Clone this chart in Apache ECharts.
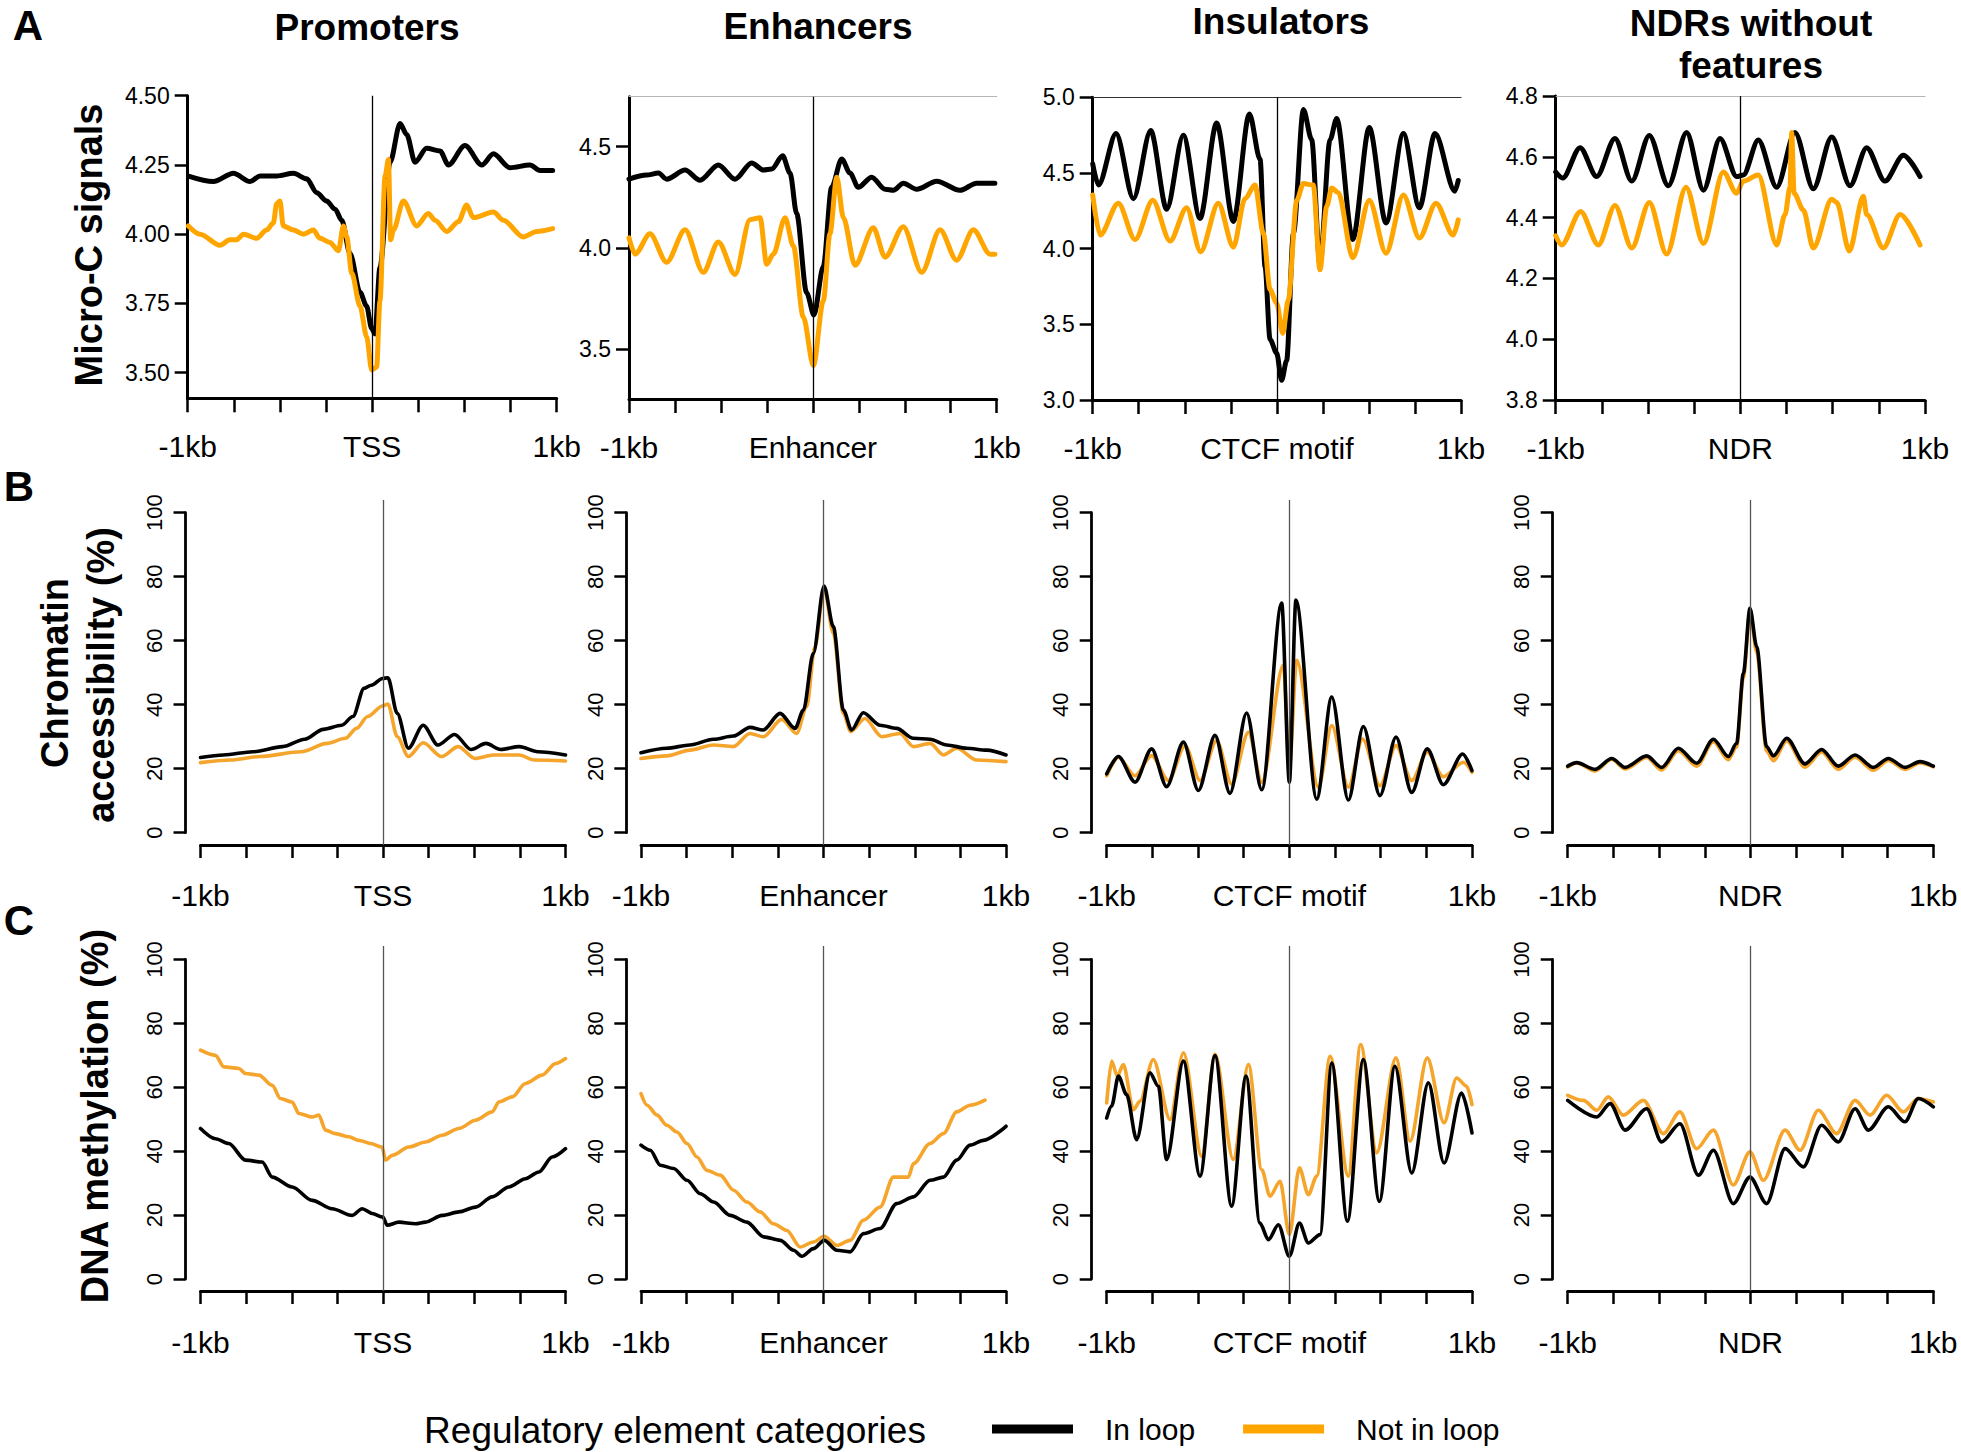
<!DOCTYPE html>
<html><head><meta charset="utf-8">
<script src="https://cdn.jsdelivr.net/npm/echarts@6/dist/echarts.min.js"></script>
<style>html,body{margin:0;padding:0;background:#fff}#c{width:1961px;height:1452px}</style>
</head><body><div id="c"></div>
<script>
const FONT = '"Liberation Sans", Arial, Helvetica, sans-serif';

// ---------- text / categories ----------
const columnTitles = ['Promoters', 'Enhancers', 'Insulators', 'NDRs without', 'features'];
const centerLabels = ['TSS', 'Enhancer', 'CTCF motif', 'NDR'];
const rowTitles = ['Micro-C signals', 'Chromatin', 'accessibility (%)', 'DNA methylation (%)'];
const panelLetters = ['A', 'B', 'C'];
const seriesNames = ['In loop', 'Not in loop'];
const legendTitle = 'Regulatory element categories';
const edgeLabels = ['-1kb', '1kb'];

// ---------- tick values ----------
const microCTicks = [[3.5, 3.75, 4.0, 4.25, 4.5], [3.5, 4.0, 4.5], [3.0, 3.5, 4.0, 4.5, 5.0], [3.8, 4.0, 4.2, 4.4, 4.6, 4.8]];
const microCDecimals = [2, 1, 1, 1];
const percentTicks = [0, 20, 40, 60, 80, 100];

// ---------- data: [position (bp), value] ----------
// Row A: Micro-C signals
const microC_promoters_in = [[-996,4.21],[-861,4.19],[-752,4.22],[-662,4.19],[-608,4.21],[-518,4.21],[-427,4.22],[-355,4.20],[-301,4.15],[-247,4.12],[-201,4.09],[-165,4.05],[-120,3.93],[-66,3.79],[-30,3.74],[-3,3.66],[15,3.64],[42,3.88],[97,4.26],[151,4.40],[187,4.36],[232,4.26],[295,4.31],[368,4.30],[413,4.25],[503,4.32],[594,4.25],[657,4.29],[747,4.24],[855,4.25],[910,4.23],[978,4.23]];
const microC_promoters_out = [[-996,4.03],[-933,4.00],[-825,3.96],[-771,3.98],[-734,3.98],[-698,4.00],[-626,3.985],[-572,4.015],[-536,4.04],[-518,4.11],[-500,4.12],[-482,4.03],[-427,4.015],[-373,4.00],[-319,4.015],[-283,3.985],[-229,3.97],[-183,3.94],[-156,4.03],[-138,3.99],[-111,3.86],[-66,3.74],[-30,3.63],[-3,3.51],[24,3.52],[42,3.76],[70,4.21],[88,4.27],[100,3.98],[115,4.015],[169,4.12],[241,4.03],[304,4.075],[341,4.05],[404,4.01],[467,4.045],[512,4.105],[548,4.06],[657,4.08],[711,4.05],[819,3.99],[892,4.01],[978,4.02]];
const microC_enhancers_in = [[-1000,4.34],[-904,4.36],[-840,4.37],[-795,4.34],[-695,4.385],[-614,4.335],[-514,4.41],[-423,4.34],[-333,4.42],[-269,4.385],[-224,4.39],[-164,4.455],[-124,4.37],[-88,4.17],[-34,3.78],[6,3.67],[57,3.91],[102,4.30],[157,4.44],[202,4.37],[247,4.30],[320,4.35],[393,4.29],[438,4.285],[492,4.32],[565,4.29],[674,4.33],[800,4.285],[891,4.32],[964,4.32],[990,4.32]];
const microC_enhancers_out = [[-1000,4.05],[-967,3.97],[-886,4.07],[-795,3.93],[-695,4.09],[-596,3.88],[-514,4.03],[-423,3.87],[-342,4.14],[-287,4.15],[-251,3.92],[-215,3.97],[-151,4.15],[-106,4.01],[-52,3.66],[3,3.42],[57,3.74],[93,4.07],[130,4.35],[166,4.15],[229,3.915],[329,4.10],[393,3.955],[492,4.105],[592,3.88],[692,4.09],[782,3.94],[873,4.09],[964,3.97],[990,3.97]];
const microC_insulators_in = [[-1000,4.56],[-969,4.42],[-873,4.76],[-779,4.33],[-685,4.78],[-598,4.26],[-508,4.75],[-417,4.20],[-327,4.83],[-236,4.18],[-149,4.89],[-91,4.59],[-64,3.88],[-37,3.40],[-1,3.31],[26,3.13],[53,3.26],[90,4.10],[144,4.92],[189,4.72],[234,3.90],[289,4.72],[325,4.86],[412,4.06],[502,4.80],[593,4.17],[687,4.76],[774,4.27],[859,4.76],[967,4.38],[985,4.45]];
const microC_insulators_out = [[-1000,4.355],[-960,4.09],[-861,4.30],[-770,4.06],[-674,4.32],[-580,4.05],[-490,4.27],[-414,3.98],[-318,4.30],[-236,4.01],[-173,4.33],[-119,4.42],[-73,4.10],[-37,3.73],[-1,3.64],[32,3.44],[62,3.66],[108,4.32],[144,4.43],[198,4.42],[234,3.86],[271,4.28],[298,4.40],[334,4.37],[412,3.94],[502,4.32],[593,3.97],[687,4.355],[774,4.07],[864,4.30],[958,4.09],[985,4.19]];
const microC_ndr_in = [[-1000,4.55],[-962,4.53],[-868,4.63],[-778,4.535],[-679,4.66],[-588,4.52],[-493,4.67],[-390,4.505],[-291,4.68],[-200,4.49],[-110,4.66],[-20,4.535],[16,4.54],[97,4.655],[197,4.50],[296,4.68],[395,4.495],[495,4.665],[594,4.505],[684,4.63],[783,4.52],[883,4.605],[973,4.535]];
const microC_ndr_out = [[-1000,4.34],[-968,4.31],[-865,4.42],[-769,4.31],[-679,4.44],[-588,4.30],[-493,4.45],[-399,4.28],[-294,4.50],[-200,4.315],[-92,4.55],[-20,4.48],[16,4.52],[97,4.54],[197,4.31],[242,4.41],[269,4.50],[278,4.68],[291,4.48],[341,4.425],[395,4.30],[495,4.46],[522,4.45],[590,4.29],[666,4.47],[684,4.41],[774,4.30],[865,4.41],[973,4.31]];

// Row B: chromatin accessibility (%)
const access_promoters_in = [[-1000,23.5],[-874,24.3],[-712,25.3],[-550,26.9],[-429,29.2],[-327,32.3],[-226,33.6],[-165,36.3],[-104,45.1],[-64,46.1],[-3,48.2],[27,48.4],[78,37.3],[139,26.4],[220,33.6],[301,27.4],[392,30.7],[483,26.0],[564,27.9],[645,26.0],[747,26.9],[848,25.3],[1000,24.3]];
const access_promoters_out = [[-1000,21.9],[-834,22.7],[-672,23.8],[-449,25.3],[-307,27.9],[-206,29.5],[-145,32.6],[-84,36.3],[-3,39.6],[27,40.2],[78,30.0],[139,23.8],[220,28.1],[321,23.8],[412,26.9],[504,23.2],[605,24.3],[747,24.3],[828,22.7],[1000,22.4]];
const access_enhancers_in = [[-1000,25.0],[-859,26.4],[-732,27.4],[-604,29.2],[-494,30.2],[-403,32.9],[-330,32.1],[-238,37.3],[-156,32.6],[-110,38.3],[-56,56.0],[3,77.1],[54,64.4],[109,38.3],[154,32.1],[218,37.5],[310,33.6],[401,32.6],[492,29.5],[584,29.2],[675,27.4],[785,26.4],[894,25.8],[1000,24.3]];
const access_enhancers_out = [[-1000,23.2],[-859,24.0],[-732,25.8],[-604,27.4],[-494,26.9],[-403,31.0],[-330,30.0],[-229,35.4],[-147,31.0],[-92,39.4],[-47,58.1],[3,76.4],[54,62.3],[109,37.3],[149,31.6],[227,35.7],[319,30.0],[419,31.0],[492,26.9],[584,27.9],[657,24.3],[730,26.4],[839,22.7],[1000,22.2]];
const access_insulators_in = [[-1000,18.4],[-936,23.8],[-845,15.8],[-754,26.2],[-672,14.4],[-580,28.3],[-498,13.2],[-407,30.4],[-325,12.3],[-234,37.4],[-151,13.4],[-42,71.8],[0,15.8],[36,72.7],[150,10.5],[232,42.4],[323,10.2],[405,33.2],[496,11.6],[584,29.9],[670,12.6],[755,26.2],[843,15.0],[949,24.6],[1000,19.4]];
const access_insulators_out = [[-1000,17.8],[-936,23.6],[-845,17.8],[-754,24.1],[-662,16.3],[-571,27.2],[-489,16.3],[-398,28.8],[-316,15.2],[-224,31.4],[-151,15.8],[-33,52.3],[0,20.5],[40,53.9],[159,14.2],[232,33.5],[323,14.2],[401,29.3],[496,14.7],[584,27.2],[670,16.3],[755,25.2],[843,17.5],[953,22.0],[1000,18.9]];
const access_ndr_in = [[-1000,20.8],[-951,21.9],[-850,19.8],[-759,23.2],[-686,20.4],[-568,24.0],[-486,20.4],[-395,26.4],[-294,21.7],[-203,29.2],[-121,23.8],[-76,27.9],[-39,49.8],[-3,70.1],[34,58.1],[88,26.9],[125,24.0],[198,29.5],[298,21.5],[389,26.0],[480,20.8],[572,24.3],[672,20.4],[754,23.2],[845,20.4],[927,22.2],[1000,20.8]];
const access_ndr_out = [[-1000,20.5],[-951,21.8],[-850,19.3],[-759,23.0],[-686,19.9],[-568,23.5],[-486,19.6],[-395,25.6],[-294,20.8],[-203,28.4],[-121,22.8],[-76,26.8],[-39,48.5],[-3,69.0],[34,56.5],[88,25.5],[125,22.5],[198,28.7],[298,20.5],[389,25.2],[480,19.8],[572,23.6],[672,19.5],[754,22.6],[845,19.8],[927,21.8],[1000,20.6]];

// Row C: DNA methylation (%)
const meth_promoters_in = [[-1000,47.1],[-918,43.9],[-845,42.4],[-753,37.2],[-662,36.6],[-607,31.9],[-498,28.8],[-388,24.6],[-279,22.0],[-169,19.9],[-114,22.0],[-59,20.5],[-1,19.4],[23,16.8],[87,17.8],[178,17.3],[233,17.8],[324,19.9],[416,21.0],[507,22.5],[598,25.7],[690,28.8],[781,31.4],[854,33.5],[927,38.2],[1000,40.8]];
const meth_promoters_out = [[-1000,71.6],[-918,70.0],[-872,66.4],[-790,65.9],[-753,64.3],[-680,63.8],[-607,60.6],[-562,56.5],[-498,55.4],[-461,51.8],[-388,50.7],[-352,51.3],[-315,46.6],[-260,45.5],[-187,44.5],[-132,43.4],[-68,42.4],[-5,41.3],[14,37.2],[50,38.7],[142,41.3],[233,42.9],[324,45.0],[416,47.1],[507,49.7],[598,52.3],[635,55.4],[708,57.0],[781,61.2],[872,63.8],[945,67.4],[1000,69.0]];
const meth_enhancers_in = [[-1000,41.9],[-949,40.3],[-894,35.6],[-821,34.6],[-748,30.9],[-675,26.7],[-602,24.1],[-511,19.9],[-420,17.8],[-328,13.2],[-237,12.1],[-164,9.0],[-119,7.1],[-55,9.5],[4,12.1],[73,9.0],[146,8.5],[219,14.2],[310,15.8],[401,23.6],[493,25.7],[584,30.9],[657,31.9],[730,37.2],[803,41.9],[876,43.4],[1000,47.8]];
const meth_enhancers_out = [[-1000,58.0],[-967,54.4],[-912,51.3],[-858,48.1],[-803,46.0],[-748,42.4],[-693,38.2],[-639,34.0],[-566,32.5],[-493,27.8],[-420,24.1],[-347,21.0],[-274,17.3],[-201,15.2],[-128,10.0],[-55,11.6],[4,13.4],[73,10.5],[146,12.1],[219,18.4],[310,22.5],[383,31.9],[465,31.9],[493,36.1],[584,42.4],[657,45.5],[730,52.3],[803,54.4],[885,56.0]];
const meth_insulators_in = [[-1000,50.4],[-973,54.1],[-936,63.5],[-891,57.7],[-836,43.6],[-763,64.5],[-717,60.3],[-672,37.4],[-580,68.2],[-489,32.2],[-407,69.9],[-316,22.8],[-237,63.5],[-161,17.5],[-115,12.3],[-60,17.0],[0,7.1],[55,17.5],[104,11.3],[168,13.9],[232,67.6],[318,18.1],[405,68.7],[493,24.3],[578,66.6],[670,33.2],[761,61.4],[847,36.3],[943,58.2],[1000,45.7]];
const meth_insulators_out = [[-1000,55.1],[-973,68.2],[-942,63.5],[-909,67.1],[-854,53.0],[-818,55.6],[-745,68.7],[-653,49.9],[-580,70.8],[-480,38.4],[-407,70.3],[-307,37.4],[-224,67.1],[-151,34.2],[-106,25.9],[-51,30.6],[0,13.9],[55,34.8],[104,26.4],[150,32.2],[223,69.7],[323,32.2],[390,73.4],[478,39.5],[584,69.2],[661,43.1],[755,69.2],[847,48.9],[916,62.9],[971,60.3],[1000,54.6]];
const meth_ndr_in = [[-1000,55.9],[-841,50.7],[-768,54.9],[-686,46.6],[-568,53.3],[-486,42.9],[-386,48.6],[-285,32.5],[-203,40.3],[-94,23.6],[-3,31.9],[88,23.6],[189,40.8],[289,35.1],[389,48.1],[480,42.9],[572,53.3],[645,46.6],[754,53.9],[845,49.2],[918,56.5],[1000,53.9]];
const meth_ndr_out = [[-1000,57.5],[-914,55.9],[-841,52.8],[-778,57.0],[-696,51.3],[-586,55.9],[-477,45.5],[-386,52.3],[-295,40.8],[-203,46.6],[-94,29.4],[-3,39.8],[70,30.9],[189,46.6],[271,40.3],[371,52.8],[471,45.5],[572,55.9],[654,51.3],[745,57.5],[836,52.3],[918,56.5],[1000,55.4]];

const rowData = [
  [[microC_promoters_in, microC_promoters_out], [microC_enhancers_in, microC_enhancers_out], [microC_insulators_in, microC_insulators_out], [microC_ndr_in, microC_ndr_out]],
  [[access_promoters_in, access_promoters_out], [access_enhancers_in, access_enhancers_out], [access_insulators_in, access_insulators_out], [access_ndr_in, access_ndr_out]],
  [[meth_promoters_in, meth_promoters_out], [meth_enhancers_in, meth_enhancers_out], [meth_insulators_in, meth_insulators_out], [meth_ndr_in, meth_ndr_out]]
];

// ---------- layout (pixels) ----------
const colsA = [[187.7, 556.7], [629, 996.7], [1092.7, 1461], [1555.7, 1925]];
const rowAGeom = [
  { top: 95.7, bottom: 398.3, min: 3.4076, max: 4.5, topLine: null },
  { top: 96.7, bottom: 399, min: 3.255, max: 4.747, topLine: '#b5b5b5' },
  { top: 97.3, bottom: 400, min: 3.0, max: 5.0, topLine: '#333' },
  { top: 96, bottom: 400, min: 3.8, max: 4.8, topLine: '#b5b5b5' }
];
const colsBC = [[200.5, 565.5], [641, 1006], [1106.7, 1472], [1567.7, 1933.3]];
const yAxisXBC = [185.5, 626.3, 1091.7, 1552.7];
const rowsBC = [
  { top: 500, y100: 512.7, y0: 832.7, axis: 845, labelMargin: 35 },
  { top: 946, y100: 959.5, y0: 1279, axis: 1291, labelMargin: 36 }
];
const BLACK = '#000';
const ORANGE_A = '#FFA500';
const ORANGE_BC = '#F5A42C';

const grids = [], xAxes = [], yAxes = [], series = [];

function xLabel(v, i) {
  if (v === -1000) return edgeLabels[0];
  if (v === 1000) return edgeLabels[1];
  if (v === 0) return centerLabels[i];
  return '';
}
function lineSeries(name, data, xi, yi, color, width, withCenter, centerColor) {
  const s = {
    name, type: 'line', data, xAxisIndex: xi, yAxisIndex: yi,
    showSymbol: false, symbol: 'none', smooth: 0.3, smoothMonotone: 'x',
    lineStyle: { color, width, join: 'round', cap: 'round' }, itemStyle: { color },
    silent: true, animation: false
  };
  if (withCenter) {
    s.markLine = {
      silent: true, symbol: ['none', 'none'], label: { show: false }, animation: false,
      lineStyle: { color: centerColor, width: 1.3, type: 'solid' },
      data: [{ xAxis: 0 }]
    };
  }
  return s;
}
function bottomXAxis(gi, i, margin, fontSize, lineW, tickLen) {
  return {
    gridIndex: gi, type: 'value', min: -1000, max: 1000, interval: 250, position: 'bottom',
    axisLine: { show: true, onZero: false, lineStyle: { color: BLACK, width: lineW } },
    axisTick: { show: true, inside: false, length: tickLen, lineStyle: { color: BLACK, width: 2.5 } },
    axisLabel: { show: true, margin, fontSize, color: BLACK, fontFamily: FONT, showMinLabel: true, showMaxLabel: true, formatter: v => xLabel(v, i) },
    splitLine: { show: false }
  };
}

// Row A panels
for (let i = 0; i < 4; i++) {
  const [l, r] = colsA[i];
  const p = rowAGeom[i];
  grids.push({ left: l, top: p.top, width: r - l, height: p.bottom - p.top });
  const gi = grids.length - 1;
  const xi = xAxes.length;
  xAxes.push(bottomXAxis(gi, i, 33, 30, 3, 14));
  if (p.topLine) {
    xAxes.push({ gridIndex: gi, type: 'value', position: 'top', min: -1000, max: 1000,
      axisLine: { show: true, onZero: false, lineStyle: { color: p.topLine, width: 1.2 } },
      axisTick: { show: false }, axisLabel: { show: false }, splitLine: { show: false } });
  }
  const yi = yAxes.length;
  const dec = microCDecimals[i];
  yAxes.push({
    gridIndex: gi, type: 'value', min: p.min, max: p.max, position: 'left',
    axisLine: { show: true, onZero: false, lineStyle: { color: BLACK, width: 3 } },
    axisTick: { show: true, length: 13, lineStyle: { color: BLACK, width: 2.5 }, customValues: microCTicks[i] },
    axisLabel: { show: true, margin: 18, fontSize: 23, color: BLACK, fontFamily: FONT, customValues: microCTicks[i], formatter: v => Number(v).toFixed(dec) },
    splitLine: { show: false }
  });
  const [dIn, dOut] = rowData[0][i];
  series.push(lineSeries(seriesNames[0], dIn, xi, yi, BLACK, 5, true, BLACK));
  series.push(lineSeries(seriesNames[1], dOut, xi, yi, ORANGE_A, 5, false));
}

// Rows B and C
for (let row = 0; row < 2; row++) {
  const R = rowsBC[row];
  const ppu = (R.y0 - R.y100) / 100;
  for (let i = 0; i < 4; i++) {
    const [l, r] = colsBC[i];
    grids.push({ left: l, top: R.top, width: r - l, height: R.axis - R.top });
    const gi = grids.length - 1;
    const xi = xAxes.length;
    xAxes.push(bottomXAxis(gi, i, R.labelMargin, 30, 2.8, 13));
    const yi = yAxes.length;
    yAxes.push({ gridIndex: gi, type: 'value', show: false,
      min: -(R.axis - R.y0) / ppu, max: 100 + (R.y100 - R.top) / ppu,
      axisLine: { onZero: false }, splitLine: { show: false } });
    // separate grid holding only the visible y axis (spans 0..100 like base R)
    grids.push({ left: yAxisXBC[i], top: R.y100, width: 2, height: R.y0 - R.y100 });
    const gy = grids.length - 1;
    xAxes.push({ gridIndex: gy, type: 'value', show: false, min: 0, max: 1, splitLine: { show: false } });
    yAxes.push({
      gridIndex: gy, type: 'value', min: 0, max: 100, interval: 20, position: 'left',
      axisLine: { show: true, onZero: false, lineStyle: { color: BLACK, width: 2.8 } },
      axisTick: { show: true, length: 12, lineStyle: { color: BLACK, width: 2.5 } },
      axisLabel: { show: true, rotate: 90, margin: 20, fontSize: 22, color: BLACK, fontFamily: FONT },
      splitLine: { show: false }
    });
    const [dIn, dOut] = rowData[row + 1][i];
    series.push(lineSeries(seriesNames[1], dOut, xi, yi, ORANGE_BC, 3.6, true, '#555'));
    series.push(lineSeries(seriesNames[0], dIn, xi, yi, BLACK, 3.6, false));
  }
}

function txt(text, x, y, font, rot) {
  return { type: 'text', x, y, rotation: rot || 0, silent: true,
    style: { text, font, fill: BLACK, align: 'center', verticalAlign: 'middle', textAlign: 'center', textVerticalAlign: 'middle' } };
}
const BOLD = 'bold 37px ' + FONT;
const ROWBOLD = 'bold 38px ' + FONT;
const graphic = [
  txt(panelLetters[0], 28, 25, 'bold 42px ' + FONT),
  txt(panelLetters[1], 19, 486, 'bold 42px ' + FONT),
  txt(panelLetters[2], 19, 920, 'bold 42px ' + FONT),
  txt(columnTitles[0], 367, 27, BOLD),
  txt(columnTitles[1], 818, 26, BOLD),
  txt(columnTitles[2], 1281, 21, BOLD),
  txt(columnTitles[3], 1751, 23, BOLD),
  txt(columnTitles[4], 1751, 65, BOLD),
  txt(rowTitles[0], 89, 245, ROWBOLD, Math.PI / 2),
  txt(rowTitles[1], 55, 673, ROWBOLD, Math.PI / 2),
  txt(rowTitles[2], 101, 675, ROWBOLD, Math.PI / 2),
  txt(rowTitles[3], 95, 1116, ROWBOLD, Math.PI / 2),
  txt(legendTitle, 675, 1430, '37px ' + FONT)
];

const chart = echarts.init(document.getElementById('c'), null, { renderer: 'svg', width: 1961, height: 1452 });
chart.setOption({
  backgroundColor: '#fff',
  animation: false,
  grid: grids,
  xAxis: xAxes,
  yAxis: yAxes,
  series,
  legend: {
    data: seriesNames, left: 992, top: 1414, padding: 0, orient: 'horizontal',
    icon: 'rect', itemWidth: 81, itemHeight: 9, itemGap: 48, selectedMode: false,
    textStyle: { fontSize: 30, color: BLACK, fontFamily: FONT, padding: [0, 0, 0, 27] }
  },
  graphic
});
</script>
</body></html>
